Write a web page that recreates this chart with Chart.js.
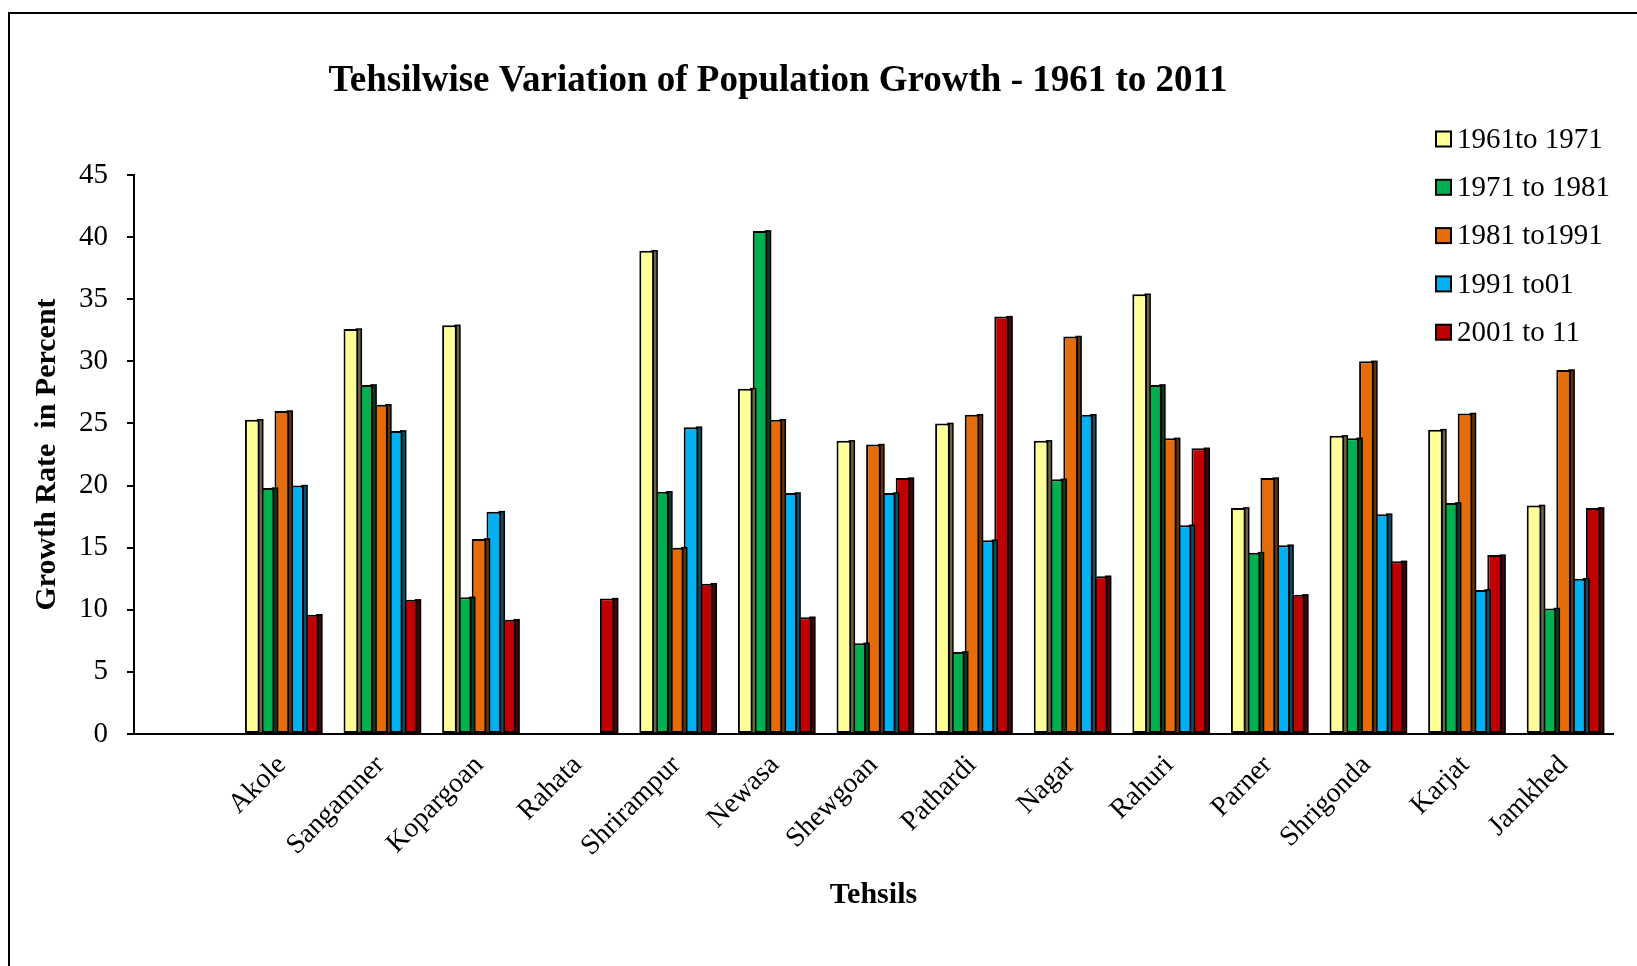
<!DOCTYPE html>
<html>
<head>
<meta charset="utf-8">
<title>Tehsilwise Variation of Population Growth</title>
<script src="https://cdn.jsdelivr.net/npm/chart.js@4.4.1/dist/chart.umd.min.js"></script>
<style>
  html, body { margin: 0; padding: 0; background: #fff; }
  canvas { display: block; }
</style>
</head>
<body>
<canvas id="chart" width="1637" height="966"></canvas>
<script>
// Tehsils (the first slot is left empty on the category axis)
const tehsils = ['', 'Akole', 'Sangamner', 'Kopargoan', 'Rahata', 'Shrirampur', 'Newasa',
  'Shewgoan', 'Pathardi', 'Nagar', 'Rahuri', 'Parner', 'Shrigonda', 'Karjat', 'Jamkhed'];

// Decadal growth rate, percent
const growth1961to1971 = [null, 25.3, 32.6, 32.9, null, 38.9, 27.8, 23.6, 25.0, 23.6, 35.4, 18.2, 24.0, 24.5, 18.4];
const growth1971to1981 = [null, 19.8, 28.1, 11.0, null, 19.5, 40.5, 7.3, 6.6, 20.5, 28.1, 14.6, 23.8, 18.6, 10.1];
const growth1981to1991 = [null, 26.0, 26.5, 15.7, null, 15.0, 25.3, 23.3, 25.7, 32.0, 23.8, 20.6, 30.0, 25.8, 29.3];
const growth1991to2001 = [null, 20.0, 24.4, 17.9, null, 24.7, 19.4, 19.4, 15.6, 25.7, 16.8, 15.2, 17.7, 11.6, 12.5];
const growth2001to2011 = [null, 9.6, 10.8, 9.2, 10.9, 12.1, 9.4, 20.6, 33.6, 12.7, 23.0, 11.2, 13.9, 14.4, 18.2];

const seriesLabels = ['1961to 1971', '1971 to 1981', '1981 to1991', '1991 to01', '2001 to 11'];
const yTicks = [0, 5, 10, 15, 20, 25, 30, 35, 40, 45];

const chartTitle = 'Tehsilwise Variation of Population Growth - 1961 to 2011';
const xTitle = 'Tehsils';
const yTitle = 'Growth Rate  in Percent';

const SERIF = "'Liberation Serif', 'Times New Roman', serif";
const fills = ['#FFFF99', '#00B050', '#E46C0A', '#00B0F0', '#C00000'];
const sides = ['#6B6440', '#04401F', '#6A3006', '#06506E', '#4A0303'];

const seriesValues = [growth1961to1971, growth1971to1981, growth1981to1991, growth1991to2001, growth2001to2011];

// Page background and the thin frame round the figure
const framePlugin = {
  id: 'frame',
  beforeDraw(chart) {
    const ctx = chart.ctx;
    ctx.save();
    ctx.fillStyle = '#fff';
    ctx.fillRect(0, 0, chart.width, chart.height);
    ctx.strokeStyle = '#000';
    ctx.lineWidth = 2;
    ctx.beginPath();
    ctx.moveTo(9, chart.height);
    ctx.lineTo(9, 13);
    ctx.lineTo(chart.width, 13);
    ctx.stroke();
    ctx.restore();
  }
};

// Dark right-hand face behind each bar, giving the bars a little depth
const depthPlugin = {
  id: 'barDepth',
  beforeDatasetDraw(chart, args) {
    const ds = chart.data.datasets[args.index];
    const ctx = chart.ctx;
    ctx.save();
    args.meta.data.forEach((bar, i) => {
      if (ds.data[i] == null) return;
      const p = bar.getProps(['x', 'y', 'base', 'width'], true);
      const right = p.x + p.width / 2;
      ctx.fillStyle = ds.sideColor;
      ctx.fillRect(right - 2, p.y, 5, p.base - p.y);
      ctx.strokeStyle = '#000';
      ctx.lineWidth = 1.5;
      ctx.strokeRect(right - 2, p.y, 5, p.base - p.y);
    });
    ctx.restore();
  }
};

// Title and legend drawn over the plot area
const titleLegendPlugin = {
  id: 'titleLegend',
  afterDraw(chart) {
    const ctx = chart.ctx;
    ctx.save();
    ctx.fillStyle = '#000';
    ctx.font = 'bold 37px ' + SERIF;
    ctx.textAlign = 'center';
    ctx.textBaseline = 'middle';
    ctx.fillText(chartTitle, 778, 81);

    ctx.font = '29px ' + SERIF;
    ctx.textAlign = 'left';
    chart.data.datasets.forEach((ds, i) => {
      const cy = 139 + i * 48.3;
      ctx.fillStyle = ds.backgroundColor;
      ctx.fillRect(1436, cy - 7.5, 15, 15);
      ctx.strokeStyle = '#000';
      ctx.lineWidth = 2;
      ctx.strokeRect(1436, cy - 7.5, 15, 15);
      ctx.fillStyle = '#000';
      ctx.fillText(ds.label, 1457, cy + 1);
    });
    ctx.restore();
  }
};

new Chart(document.getElementById('chart'), {
  type: 'bar',
  data: {
    labels: tehsils,
    datasets: seriesValues.map((values, i) => ({
      label: seriesLabels[i],
      data: values,
      backgroundColor: fills[i],
      sideColor: sides[i],
      borderColor: '#000',
      borderWidth: 2,
      borderSkipped: false,
      categoryPercentage: 0.75,
      barPercentage: 1.0
    }))
  },
  options: {
    responsive: false,
    devicePixelRatio: 1,
    animation: false,
    layout: { padding: { left: 0, right: 24, top: 175, bottom: 0 } },
    plugins: {
      legend: { display: false },
      title: { display: false },
      tooltip: { enabled: false }
    },
    scales: {
      x: {
        grid: { display: false, drawTicks: false },
        border: { display: true, color: '#000', width: 2 },
        ticks: {
          color: '#000',
          font: { family: SERIF, size: 28 },
          minRotation: 45,
          maxRotation: 45,
          autoSkip: false,
          padding: 15
        },
        title: {
          display: true,
          text: xTitle,
          color: '#000',
          font: { family: SERIF, size: 30, weight: 'bold' },
          padding: { top: 0, bottom: 53 }
        },
        afterFit(scale) { scale.height = 232; }
      },
      y: {
        min: 0,
        max: 45,
        afterBuildTicks(scale) { scale.ticks = yTicks.map(v => ({ value: v })); },
        grid: { drawOnChartArea: false, drawTicks: true, tickLength: 7, color: '#000', lineWidth: 2 },
        border: { display: true, color: '#000', width: 2 },
        ticks: {
          color: '#000',
          font: { family: SERIF, size: 29 },
          padding: 19
        },
        title: {
          display: true,
          text: yTitle,
          color: '#000',
          font: { family: SERIF, size: 30, weight: 'bold' },
          padding: { top: 29, bottom: 0 }
        },
        afterFit(scale) { scale.width = 134; }
      }
    }
  },
  plugins: [framePlugin, depthPlugin, titleLegendPlugin]
});
</script>
</body>
</html>
